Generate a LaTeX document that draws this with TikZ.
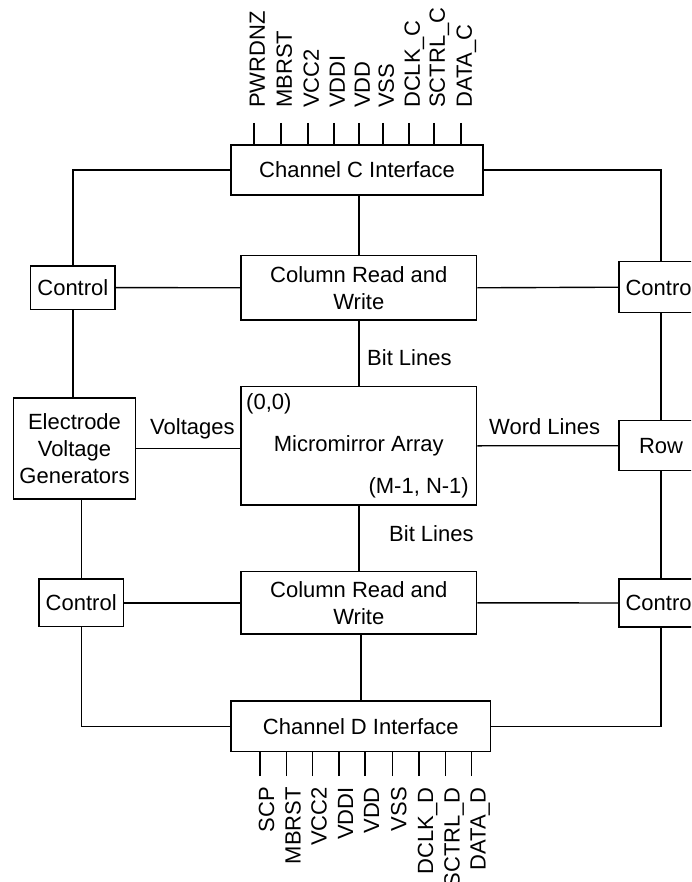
\documentclass[tikz,border=0pt]{standalone}
\usepackage{fontspec}
\setmainfont{Liberation Sans}
\begin{document}
\begin{tikzpicture}[x=1pt,y=-1pt,
  every node/.style={font=\fontsize{22}{26.7}\selectfont},
  blk/.style={draw,line width=1.4pt,rectangle,inner sep=0pt,align=center},
  wire/.style={line width=1.4pt},
  lbl/.style={inner sep=0pt},
  toplabel/.style={inner sep=0pt,rotate=90,anchor=base west},
  botlabel/.style={inner sep=0pt,rotate=90,anchor=base east}]
\useasboundingbox (0,0) rectangle (691,882);
\clip (0,0) rectangle (691,882);
% boxes
\node[blk,minimum width=252,minimum height=50] (chC) at (357,170) {Channel C Interface};
\node[blk,minimum width=84.3,minimum height=43.3] (ctlTL) at (72.85,287.6) {Control};
\node[blk,minimum width=235.7,minimum height=64.3] (crwT) at (358.8,287.8) {Column Read and\\Write};
\node[blk,minimum width=84,minimum height=51] (ctlTR) at (661,287.2) {Control};
\node[blk,minimum width=235.7,minimum height=118.3] (ma) at (358.8,445.8) {Micromirror Array};
\node[blk,minimum width=122.4,minimum height=101] (evg) at (74.5,448.5) {Electrode\\Voltage\\Generators};
\node[blk,minimum width=84,minimum height=50] (row) at (661,445.7) {Row};
\node[blk,minimum width=84.3,minimum height=47.7] (ctlBL) at (81.2,602.8) {Control};
\node[blk,minimum width=235.7,minimum height=62.3] (crwB) at (358.8,602.8) {Column Read and\\Write};
\node[blk,minimum width=84,minimum height=48] (ctlBR) at (661,603) {Control};
\node[blk,minimum width=259.7,minimum height=50.7] (chD) at (360.8,726.3) {Channel D Interface};
% labels
\node[lbl,anchor=west] (bl1) at (367,358) {Bit Lines};
\node[lbl,anchor=west] (bl2) at (389,534) {Bit Lines};
\node[lbl,anchor=west] (volt) at (150,429) {Voltages};
\node[lbl,anchor=west] (wl) at (489,427) {Word Lines};
\node[lbl,anchor=west] (c00) at (246,404) {(0,0)};
\node[lbl,anchor=east] (cmn) at (469,488) {(M-1, N-1)};
% connectors
\draw[wire] (chC.west) -| (ctlTL.north);
\draw[wire] (chC.east) -| (ctlTR.north);
\draw[wire] (crwT.north) -- (crwT.north |- chC.south);
\draw[wire] (ctlTL.east) -- (crwT.west);
\draw[wire] (crwT.east) -- (ctlTR.west);
\draw[wire] (crwT.south) -- (ma.north);
\draw[wire] (ctlTL.south) -- (ctlTL.south |- evg.north);
\draw[wire] (ctlBL.north) -- (ctlBL.north |- evg.south);
\draw[wire] (evg.east) -- (evg.east -| ma.west);
\draw[wire] (ma.east) -- (row.west);
\draw[wire] (ctlTR.south) -- (row.north);
\draw[wire] (row.south) -- (ctlBR.north);
\draw[wire] (ma.south) -- (crwB.north);
\draw[wire] (ctlBL.east) -- (crwB.west);
\draw[wire] (crwB.east) -- (ctlBR.west);
\draw[wire] (chD.north) -- (chD.north |- crwB.south);
\draw[wire] (chD.west) -| (ctlBL.south);
\draw[wire] (chD.east) -| (ctlBR.south);
% top pins
\foreach \x/\t [count=\i] in {254/PWRDNZ,281/MBRST,308/VCC2,334/VDDI,359/VDD,383/VSS,409/DCLK\_C,434/SCTRL\_C,461/DATA\_C}{
  \coordinate (pt\i) at (\x,123);
  \draw[wire] (pt\i) -- (pt\i |- chC.north);
  \node[toplabel] (lt\i) at (\x+10.8,108) {\t};
}
% bottom pins
\foreach \x/\t [count=\i] in {260/SCP,286.7/MBRST,312.7/VCC2,339/VDDI,365/VDD,392.3/VSS,419/DCLK\_D,445.7/SCTRL\_D,471.7/DATA\_D}{
  \coordinate (pb\i) at (\x,776);
  \draw[wire] (pb\i) -- (pb\i |- chD.south);
  \node[botlabel] (lb\i) at (\x+14,787) {\t};
}
\end{tikzpicture}
\end{document}
